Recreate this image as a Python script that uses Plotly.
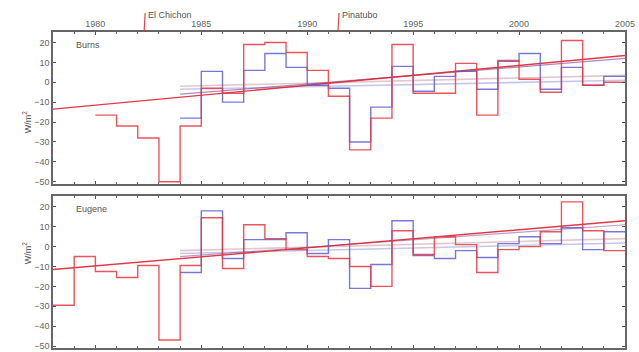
import plotly.graph_objects as go

# Annual anomalies (W/m^2); each value covers the year [Y, Y+1)
burns_red_years = list(range(1980, 2005))
burns_red = [-16.5, -22, -28, -50, -22, -3, -5.5, 19, 20, 15, 6, -7, -34, -18,
             19, -5.5, -5.5, 9.5, -16.5, 11, 1.5, -5, 21, -1.5, 0]

burns_blue_years = list(range(1984, 2005))
burns_blue = [-18, 5.5, -10, 6, 14.5, 7.5, -1.5, -3, -30, -12.5, 8, -4.5, 3,
              5.5, -3.5, 10.5, 14.5, -3.5, 7.5, -1.5, 3]

eugene_red_years = list(range(1978, 2005))
eugene_red = [-29.5, -5, -12.5, -15.5, -9.5, -47, -9.5, 14.5, -11, 11, 4, -1.5,
              -5, -6, -10, -20, 8, -4, 5, 1, -13, -1.5, 0, 7.5, 22.5, 8, -2]

eugene_blue_years = list(range(1984, 2005))
eugene_blue = [-13, 18, -6, 3.5, 3.5, 7, -3.5, 3.5, -21, -9, 13, -4.5, -6, -2,
               -5.5, 1.5, 5, 1.5, 9.5, -1.5, 7.5]

# Linear trends: [start year, end year], [start value, end value]
burns_trend_red = ([1978, 2005], [-13.5, 13.5])
burns_trend_blue = ([1984, 2005], [-6, 12])
burns_trend_pink = ([1984, 2005], [-2, 3.5])
burns_trend_lav = ([1984, 2005], [-3.5, 1])
eugene_trend_red = ([1978, 2005], [-11.5, 13])
eugene_trend_blue = ([1984, 2005], [-5, 11])
eugene_trend_pink = ([1984, 2005], [-2, 4])
eugene_trend_lav = ([1984, 2005], [-3.5, 1.8])

# Volcanic eruptions marked on the top axis
eruptions = ["El Chichon", "Pinatubo"]
eruption_dates = [1982.3, 1991.45]

stations = ["Burns", "Eugene"]

RED = "rgba(228,55,65,0.85)"
BLUE = "rgba(85,85,210,0.8)"
PINK = "rgba(215,175,185,0.7)"
LAV = "rgba(175,175,225,0.7)"
FONT = "Liberation Sans, Arial, sans-serif"


def steps(years, vals):
    # close the last year with its end point
    return years + [years[-1] + 1], vals + [vals[-1]]


fig = go.Figure()


def add_panel(xa, ya, red, blue, trends):
    for (tx, ty), col, w in trends:
        fig.add_trace(go.Scatter(x=tx, y=ty, mode="lines", xaxis=xa, yaxis=ya,
                                 line=dict(color=col, width=w), showlegend=False,
                                 hoverinfo="skip"))
    for (yrs, vals), col in ((blue, BLUE), (red, RED)):
        sx, sy = steps(yrs, vals)
        fig.add_trace(go.Scatter(x=sx, y=sy, mode="lines", xaxis=xa, yaxis=ya,
                                 line=dict(color=col, width=1.4, shape="hv"),
                                 showlegend=False))


add_panel("x", "y", (burns_red_years, burns_red), (burns_blue_years, burns_blue),
          [(burns_trend_pink, PINK, 1.6), (burns_trend_lav, LAV, 1.6),
           (burns_trend_blue, "rgba(120,60,140,0.6)", 1.2),
           (burns_trend_red, "rgba(220,35,50,0.9)", 1.4)])
add_panel("x2", "y2", (eugene_red_years, eugene_red), (eugene_blue_years, eugene_blue),
          [(eugene_trend_pink, PINK, 1.6), (eugene_trend_lav, LAV, 1.6),
           (eugene_trend_blue, "rgba(120,60,140,0.5)", 1.2),
           (eugene_trend_red, "rgba(220,35,50,0.9)", 1.4)])

axis_common = dict(
    range=[1978, 2005], tickmode="array", tickvals=[1980, 1985, 1990, 1995, 2000, 2005],
    ticks="inside", ticklen=3, tickcolor="#555", showline=True, linecolor="#666",
    linewidth=1.5, mirror="ticks", showgrid=False, zeroline=False,
    minor=dict(dtick=1, tick0=1978, ticks="inside", ticklen=2, tickcolor="#666"),
    tickfont=dict(size=9, color="#666", family=FONT),
)
yaxis_common = dict(
    range=[-51, 25.3], tickmode="array", tickvals=[-50, -40, -30, -20, -10, 0, 10, 20],
    ticks="inside", ticklen=3, tickcolor="#555", showline=True, linecolor="#666",
    linewidth=1.5, mirror="ticks", showgrid=False, zeroline=False,
    tickfont=dict(size=9, color="#666", family=FONT),
)

fig.update_layout(
    width=639, height=352,
    margin=dict(l=53, r=14, t=32, b=1),
    paper_bgcolor="white", plot_bgcolor="white",
    font=dict(family=FONT, color="#555"),
    xaxis=dict(axis_common, domain=[0, 1], anchor="y", side="top"),
    xaxis2=dict(axis_common, domain=[0, 1], anchor="y2", showticklabels=False),
    yaxis=dict(yaxis_common, domain=[0.52, 1], anchor="x"),
    yaxis2=dict(yaxis_common, domain=[0, 0.48], anchor="x2"),
)

# station names
for name, yref in zip(stations, ["y", "y2"]):
    fig.add_annotation(x=1979.0, y=19, xref="x" if yref == "y" else "x2", yref=yref,
                       text=name, showarrow=False, xanchor="left",
                       font=dict(size=9, color="#555", family=FONT))
    mid = 0.76 if yref == "y" else 0.26
    fig.add_annotation(x=-0.058, y=mid, xref="paper", yref="paper",
                       text="W/m<sup>2</sup>", textangle=-90, showarrow=False,
                       font=dict(size=9, color="#555", family=FONT))

# eruption markers
for name, when in zip(eruptions, eruption_dates):
    fig.add_shape(type="line", xref="x", yref="paper", x0=when, x1=when + 0.05,
                  y0=1.0, y1=1.06, line=dict(color="rgba(220,50,60,0.9)", width=1.2))
    fig.add_annotation(x=when + 0.1, y=1.053, xref="x", yref="paper", text=name,
                       showarrow=False, xanchor="left", yanchor="middle",
                       font=dict(size=9, color="#555", family=FONT))

fig.write_html("out.html")
